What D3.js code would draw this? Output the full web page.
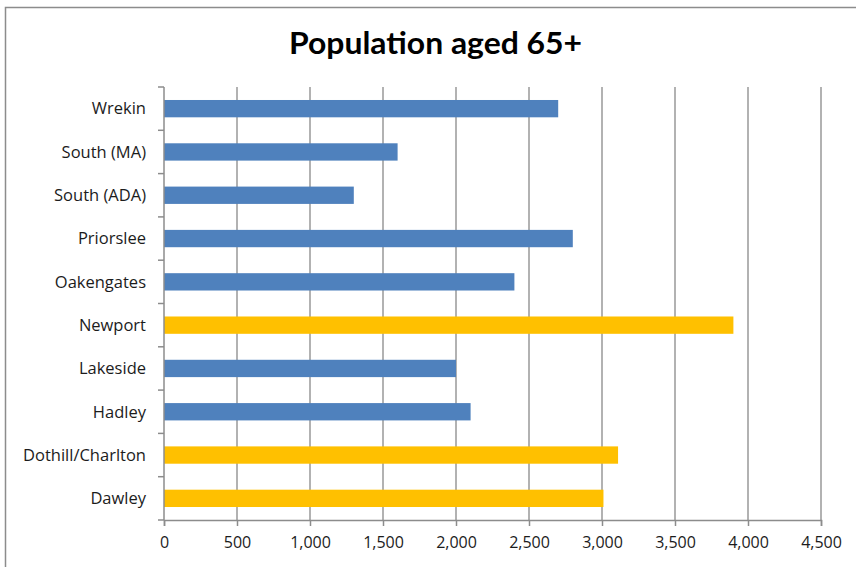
<!DOCTYPE html>
<html>
<head>
<meta charset="utf-8">
<script src="https://cdn.jsdelivr.net/npm/d3@7"></script>
<style>
  html, body { margin: 0; padding: 0; background: #fff; }
  svg { display: block; }
</style>
</head>
<body>
<script>
// Wards, listed top to bottom
const categories = ["Wrekin", "South (MA)", "South (ADA)", "Priorslee", "Oakengates",
                    "Newport", "Lakeside", "Hadley", "Dothill/Charlton", "Dawley"];
// Residents aged 65 and over
const values = [2700, 1600, 1300, 2800, 2400, 3900, 2000, 2100, 3110, 3010];
// Highlighted wards are drawn in gold
const highlighted = [false, false, false, false, false, true, false, false, true, true];
const xTicks = [0, 500, 1000, 1500, 2000, 2500, 3000, 3500, 4000, 4500];
const title = "Population aged 65+";

const W = 856, H = 567;
const margin = { left: 164, right: 35, top: 87, bottom: 47 };
const innerW = W - margin.left - margin.right;
const innerH = H - margin.top - margin.bottom;

const svg = d3.select("body").append("svg").attr("width", W).attr("height", H);

// chart frame
svg.append("rect").attr("x", 5.5).attr("y", 7.5).attr("width", W + 10).attr("height", H + 10)
  .attr("fill", "#fff").attr("stroke", "#8c8c8c").attr("stroke-width", 1.5);

svg.append("text").attr("x", 435.5).attr("y", 54).attr("text-anchor", "middle")
  .attr("font-family", "Lato, 'Open Sans', sans-serif").attr("font-weight", "bold")
  .attr("font-size", 30.5).attr("textLength", 293).attr("lengthAdjust", "spacingAndGlyphs")
  .attr("fill", "#000").text(title);

const x = d3.scaleLinear().domain([0, 4500]).range([0, innerW]);
const y = d3.scaleBand().domain(categories).range([0, innerH]).paddingInner(0.6).paddingOuter(0.3);
const yEdges = d3.scaleLinear().domain([0, categories.length]).range([0, innerH]);

const g = svg.append("g").attr("transform", `translate(${margin.left},${margin.top})`);

// vertical gridlines
g.append("g").selectAll("line").data(xTicks.slice(1)).join("line")
  .attr("x1", d => x(d)).attr("x2", d => x(d)).attr("y1", 0).attr("y2", innerH)
  .attr("stroke", "#999").attr("stroke-width", 1.5);

// bars
g.append("g").selectAll("rect").data(categories).join("rect")
  .attr("x", 0).attr("y", d => y(d))
  .attr("width", (d, i) => x(values[i])).attr("height", y.bandwidth())
  .attr("fill", (d, i) => highlighted[i] ? "#FFC000" : "#4F81BD");

// bottom axis
const xAxis = g.append("g").attr("transform", `translate(0,${innerH})`)
  .call(d3.axisBottom(x).tickValues(xTicks).tickSize(6).tickPadding(11).tickFormat(d3.format(",")));
xAxis.select(".domain").attr("stroke", "#8c8c8c").attr("stroke-width", 1.5);
xAxis.selectAll(".tick line").attr("stroke", "#8c8c8c").attr("stroke-width", 1.5);
xAxis.selectAll("text").attr("font-family", "'Open Sans', sans-serif").attr("font-size", 16).attr("fill", "#1c1c1c");

// left axis: line plus ticks at band boundaries
const yAxisG = g.append("g");
yAxisG.append("line").attr("x1", 0).attr("x2", 0).attr("y1", 0).attr("y2", innerH)
  .attr("stroke", "#8c8c8c").attr("stroke-width", 1.5);
yAxisG.selectAll("line.tk").data(d3.range(categories.length + 1)).join("line").attr("class", "tk")
  .attr("x1", -6).attr("x2", 0).attr("y1", d => yEdges(d)).attr("y2", d => yEdges(d))
  .attr("stroke", "#8c8c8c").attr("stroke-width", 1.5);
yAxisG.selectAll("text").data(categories).join("text")
  .attr("x", -18).attr("y", d => y(d) + y.bandwidth() / 2).attr("dy", "0.35em")
  .attr("text-anchor", "end").attr("font-family", "'Open Sans', sans-serif")
  .attr("font-size", 16.5).attr("fill", "#1c1c1c").text(d => d);
</script>
</body>
</html>
